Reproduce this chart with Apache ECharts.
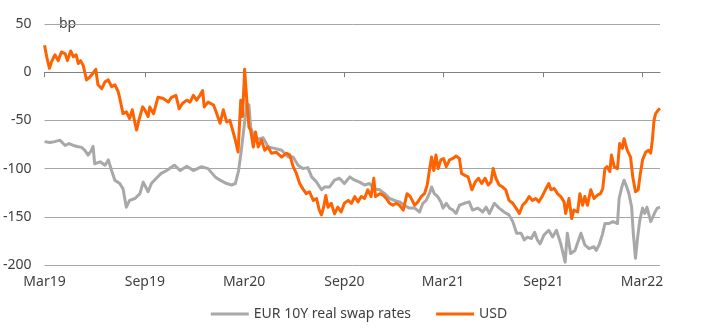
<!DOCTYPE html>
<html>
<head>
<meta charset="utf-8">
<script src="https://cdn.jsdelivr.net/npm/echarts@6/dist/echarts.min.js"></script>
<style>
  html, body { margin: 0; padding: 0; background: #fff; }
  #chart { width: 718px; height: 330px; }
</style>
</head>
<body>
<div id="chart"></div>
<script>
// EUR 10Y real swap rate (bp)
const eurDates = ['2019-03-01','2019-03-11','2019-03-20','2019-03-29','2019-04-08','2019-04-15','2019-04-23','2019-04-30','2019-05-08','2019-05-14','2019-05-20','2019-05-25','2019-05-29','2019-06-01','2019-06-11','2019-06-20','2019-06-26','2019-07-02','2019-07-08','2019-07-17','2019-07-23','2019-07-29','2019-08-04','2019-08-14','2019-08-23','2019-08-29','2019-09-07','2019-09-13','2019-09-22','2019-10-01','2019-10-11','2019-10-14','2019-10-25','2019-11-05','2019-11-17','2019-11-29','2019-12-14','2019-12-26','2020-01-08','2020-01-17','2020-01-29','2020-02-07','2020-02-14','2020-02-20','2020-02-25','2020-03-01','2020-03-06','2020-03-10','2020-03-13','2020-03-21','2020-03-30','2020-04-05','2020-04-14','2020-04-26','2020-05-09','2020-05-21','2020-05-30','2020-06-08','2020-06-17','2020-06-26','2020-07-03','2020-07-12','2020-07-21','2020-07-27','2020-08-05','2020-08-14','2020-08-23','2020-09-01','2020-09-11','2020-09-20','2020-09-29','2020-10-08','2020-10-17','2020-10-26','2020-11-05','2020-11-14','2020-11-23','2020-12-02','2020-12-11','2020-12-20','2020-12-29','2021-01-08','2021-01-17','2021-01-23','2021-01-29','2021-02-04','2021-02-08','2021-02-13','2021-02-19','2021-02-25','2021-03-01','2021-03-07','2021-03-13','2021-03-19','2021-03-25','2021-03-31','2021-04-09','2021-04-18','2021-04-24','2021-05-04','2021-05-13','2021-05-19','2021-05-25','2021-06-03','2021-06-12','2021-06-21','2021-06-30','2021-07-07','2021-07-14','2021-07-22','2021-07-28','2021-08-03','2021-08-10','2021-08-16','2021-08-21','2021-08-26','2021-09-02','2021-09-11','2021-09-18','2021-09-25','2021-10-03','2021-10-11','2021-10-15','2021-10-21','2021-10-29','2021-11-09','2021-11-16','2021-11-24','2021-12-03','2021-12-07','2021-12-13','2021-12-18','2021-12-23','2021-12-30','2022-01-07','2022-01-15','2022-01-18','2022-01-23','2022-01-27','2022-02-01','2022-02-05','2022-02-10','2022-02-13','2022-02-17','2022-02-21','2022-02-25','2022-03-02','2022-03-06','2022-03-10','2022-03-17','2022-03-21','2022-03-25','2022-03-29','2022-04-03'];
const eurValues = [-72,-73,-72,-70.5,-76,-74,-76,-77,-78,-81,-86,-82,-77,-95,-93,-96.5,-91,-102,-112,-115.5,-121,-140,-133,-131,-126,-114,-124,-115.5,-110,-105,-102,-103,-96.5,-102,-97.5,-102,-98,-100,-108.6,-112,-115.5,-117,-115.5,-102,-81,-57,-32.5,-34,-57,-70.5,-69,-68,-77.5,-79,-81,-88,-88,-96.5,-100,-99,-108.6,-114,-122,-119,-119,-112,-110,-115.5,-108.6,-112,-114,-117,-115.5,-121,-122,-126,-131,-133,-134.5,-138,-141,-141,-145,-136,-133,-126,-119,-126,-129,-134.5,-141,-136,-141,-143,-146.6,-138,-136,-134.5,-143,-141,-145,-140,-146.6,-136,-141,-145,-148,-155,-167,-167,-174,-171,-172.5,-166,-174,-178,-169,-164,-171,-164,-178,-197,-167,-188,-185,-167,-179,-183,-181,-185,-178,-169,-157,-157,-155,-157,-131,-119,-112,-119,-126,-140,-167,-193,-171,-153.5,-141,-146.6,-140,-155,-150,-145,-141,-140];

// USD 10Y real swap rate (bp)
const usdDates = ['2019-03-01','2019-03-05','2019-03-10','2019-03-14','2019-03-20','2019-03-26','2019-04-01','2019-04-08','2019-04-12','2019-04-18','2019-04-23','2019-04-28','2019-05-02','2019-05-06','2019-05-11','2019-05-17','2019-05-23','2019-05-29','2019-06-03','2019-06-07','2019-06-14','2019-06-20','2019-06-26','2019-07-02','2019-07-08','2019-07-14','2019-07-17','2019-07-23','2019-07-29','2019-08-04','2019-08-09','2019-08-14','2019-08-17','2019-08-21','2019-08-28','2019-09-01','2019-09-07','2019-09-10','2019-09-17','2019-09-25','2019-10-04','2019-10-14','2019-10-20','2019-10-28','2019-11-03','2019-11-09','2019-11-17','2019-11-23','2019-11-29','2019-12-05','2019-12-11','2019-12-16','2019-12-19','2019-12-26','2020-01-05','2020-01-11','2020-01-17','2020-01-23','2020-01-29','2020-02-04','2020-02-10','2020-02-14','2020-02-19','2020-02-24','2020-02-27','2020-03-01','2020-03-02','2020-03-06','2020-03-10','2020-03-13','2020-03-18','2020-03-22','2020-03-27','2020-04-02','2020-04-08','2020-04-14','2020-04-20','2020-04-29','2020-05-09','2020-05-18','2020-05-24','2020-05-30','2020-06-05','2020-06-11','2020-06-17','2020-06-23','2020-06-29','2020-07-06','2020-07-12','2020-07-17','2020-07-21','2020-07-25','2020-07-29','2020-08-02','2020-08-08','2020-08-14','2020-08-20','2020-08-26','2020-09-01','2020-09-08','2020-09-14','2020-09-20','2020-09-26','2020-10-02','2020-10-08','2020-10-14','2020-10-20','2020-10-25','2020-10-28','2020-11-05','2020-11-11','2020-11-17','2020-11-23','2020-11-29','2020-12-05','2020-12-11','2020-12-18','2020-12-25','2020-12-31','2021-01-08','2021-01-14','2021-01-20','2021-01-26','2021-01-31','2021-02-04','2021-02-08','2021-02-12','2021-02-16','2021-02-20','2021-02-25','2021-03-02','2021-03-07','2021-03-13','2021-03-19','2021-03-25','2021-03-31','2021-04-04','2021-04-10','2021-04-16','2021-04-23','2021-04-29','2021-05-05','2021-05-11','2021-05-17','2021-05-23','2021-05-28','2021-06-01','2021-06-06','2021-06-12','2021-06-18','2021-06-24','2021-06-30','2021-07-07','2021-07-13','2021-07-19','2021-07-25','2021-07-31','2021-08-06','2021-08-12','2021-08-18','2021-08-24','2021-08-31','2021-09-06','2021-09-11','2021-09-15','2021-09-21','2021-09-27','2021-10-03','2021-10-09','2021-10-12','2021-10-18','2021-10-23','2021-10-27','2021-11-03','2021-11-07','2021-11-12','2021-11-16','2021-11-21','2021-11-27','2021-12-03','2021-12-09','2021-12-15','2021-12-19','2021-12-23','2021-12-27','2022-01-01','2022-01-04','2022-01-09','2022-01-15','2022-01-19','2022-01-24','2022-01-27','2022-02-02','2022-02-08','2022-02-12','2022-02-17','2022-02-22','2022-02-26','2022-03-02','2022-03-08','2022-03-13','2022-03-17','2022-03-20','2022-03-23','2022-03-26','2022-03-31','2022-04-03'];
const usdValues = [28,16,4,11,18,12,21,19,12,22,16,18,9,12,7,-8,-5,-1,3,-13,-17,-10,-8,-15,-13,-20,-27,-43,-41,-48,-39,-53,-60,-50,-36,-39,-46,-36,-43,-26,-27,-31,-26,-24,-38,-32.5,-29,-31,-24,-29,-24,-19,-36,-31,-34,-43,-53,-39,-51.5,-50,-62,-70.5,-82.7,-29,-46,-12,3,-29,-57,-60,-77.5,-62,-77.5,-70.5,-81,-77.5,-84,-83,-88,-84,-86,-98,-105,-115.5,-121,-126,-124,-133,-131,-143,-148,-140,-128,-140,-136,-147,-140,-145,-136,-133,-136,-129,-134.5,-129,-131,-122,-129,-110,-129,-126,-127.6,-131,-136,-138,-136,-138,-143,-126,-129,-138,-134.5,-129,-126,-117,-102,-88,-102,-86,-100,-91,-89.5,-98,-91,-89.5,-87,-89.5,-105,-107,-108.6,-122,-114,-110,-115.5,-110,-117,-114,-100,-110,-117,-119,-122,-133,-136,-141,-146.6,-138,-134.5,-129,-133,-131,-134.5,-127.6,-120.6,-115.5,-122,-120.6,-126,-129,-134.5,-146.6,-131,-151.8,-143,-145,-126,-138,-129,-138,-122,-131,-127.6,-126,-120.6,-100,-98,-103,-86,-98,-100,-74,-79,-69,-81,-88,-108.6,-124,-122,-105,-91,-82.7,-81,-84,-70.5,-50,-43,-39,-37.6];

// Axis ticks: half-yearly labels
const tickDates = ['2019-03-01','2019-09-01','2020-03-01','2020-09-01','2021-03-01','2021-09-01','2022-03-01'];
const monthNames = ['Jan','Feb','Mar','Apr','May','Jun','Jul','Aug','Sep','Oct','Nov','Dec'];

// Dates are plotted as day numbers on a value axis (UTC based)
function toDay(s) {
  const p = s.split('-').map(Number);
  return Date.UTC(p[0], p[1] - 1, p[2]) / 86400000;
}
function dayLabel(v) {
  const d = new Date(Math.round(v) * 86400000);
  return monthNames[d.getUTCMonth()] + String(d.getUTCFullYear()).slice(2);
}
const zip = (d, v) => d.map((x, i) => [toDay(x), v[i]]);
const tickDays = tickDates.map(toDay);
const xMin = toDay('2019-03-01');
const xMax = toDay('2022-04-03');

const FONT = '"Noto Sans", sans-serif';
const TXT = '#404040';

const chart = echarts.init(document.getElementById('chart'), null, { renderer: 'canvas' });
chart.setOption({
  animation: false,
  backgroundColor: '#ffffff',
  textStyle: { fontFamily: FONT },
  grid: { left: 42, right: 58, top: 24, bottom: 65 },
  graphic: [{
    type: 'text', left: 59, top: 17,
    style: { text: 'bp', fill: TXT, font: '14px ' + FONT }
  }],
  legend: {
    bottom: 4, left: 'center',
    icon: 'rect', itemWidth: 38, itemHeight: 3, itemGap: 25,
    textStyle: { color: TXT, fontSize: 14, fontFamily: FONT },
    data: ['EUR 10Y real swap rates', 'USD']
  },
  xAxis: [{
    type: 'value', min: xMin, max: xMax,
    axisLine: { onZero: true, lineStyle: { color: '#808080', width: 1 } },
    axisTick: { show: true, length: 5, customValues: tickDays, lineStyle: { color: '#808080' } },
    axisLabel: { show: false },
    splitLine: { show: false }
  }, {
    type: 'value', min: xMin, max: xMax, position: 'bottom',
    axisLine: { show: false },
    axisTick: { show: false },
    axisLabel: {
      show: true, margin: 10, color: TXT, fontSize: 14, fontFamily: FONT,
      customValues: tickDays, formatter: dayLabel
    },
    splitLine: { show: false }
  }],
  yAxis: {
    type: 'value', min: -200, max: 50, interval: 50,
    axisLine: { show: false }, axisTick: { show: false },
    axisLabel: { color: TXT, fontSize: 14, fontFamily: FONT, margin: 13 },
    splitLine: { show: true, lineStyle: { color: '#a6a6a6', width: 1 } }
  },
  series: [{
    name: 'EUR 10Y real swap rates', type: 'line', xAxisIndex: 0,
    data: zip(eurDates, eurValues),
    showSymbol: false, symbol: 'none',
    lineStyle: { color: '#a8a8a8', width: 3, join: 'round' },
    itemStyle: { color: '#a8a8a8' }
  }, {
    name: 'USD', type: 'line', xAxisIndex: 0,
    data: zip(usdDates, usdValues),
    showSymbol: false, symbol: 'none',
    lineStyle: { color: '#ff6200', width: 3, join: 'round' },
    itemStyle: { color: '#ff6200' }
  }]
});
</script>
</body>
</html>
